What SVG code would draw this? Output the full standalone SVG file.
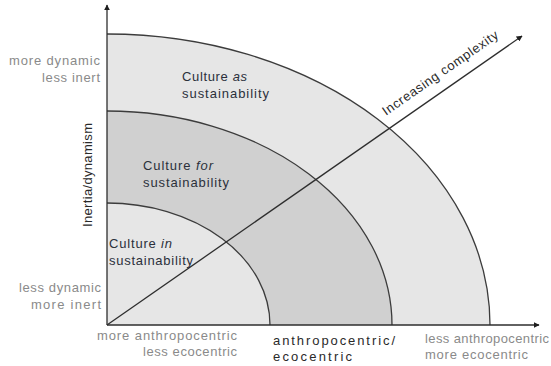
<svg xmlns="http://www.w3.org/2000/svg" width="551" height="366" viewBox="0 0 551 366">
<style>
.arc{fill:none;stroke:#3c3c3c;stroke-width:1.3}
.light{fill:#e6e6e6}
.mid{fill:#d0d0d0}
.ax{fill:none;stroke:#2e2e2e;stroke-width:1.3}
.g{font-family:"Liberation Sans",Arial,sans-serif;font-size:13px;fill:#8a8a8a}
.d{font-family:"Liberation Sans",Arial,sans-serif;font-size:13px;fill:#2b303b}
.k{font-family:"Liberation Sans",Arial,sans-serif;font-size:13px;fill:#2a2a2a}
</style>
<defs>
<marker id="ah" viewBox="0 0 10 10" refX="9" refY="5" markerWidth="6" markerHeight="6" markerUnits="userSpaceOnUse" orient="auto">
<path d="M0,0 L10,5 L0,10 Z" fill="#1e1e1e"/>
</marker>
</defs>
<rect width="551" height="366" fill="#ffffff"/>
<g id="ring-outer">
<path class="light" d="M107,325 L107,34 A383,291 0 0 1 490,325 Z"/>
<path class="arc" d="M107,34 A383,291 0 0 1 490,325"/>
</g>
<g id="ring-middle">
<path class="mid" d="M107,325 L107,111 A285,214 0 0 1 392,325 Z"/>
<path class="arc" d="M107,111 A285,214 0 0 1 392,325"/>
</g>
<g id="ring-inner">
<path class="light" d="M107,325 L107,203 A163,122 0 0 1 270,325 Z"/>
<path class="arc" d="M107,203 A163,122 0 0 1 270,325"/>
</g>
<g id="connectors">
<line class="ax" x1="107" y1="325" x2="107" y2="5" marker-end="url(#ah)"/>
<line class="ax" x1="107" y1="325" x2="539" y2="325" marker-end="url(#ah)"/>
<line class="ax" x1="107" y1="325" x2="522" y2="36" marker-end="url(#ah)"/>
</g>
<g id="label-culture-as">
<text class="d" x="182" y="81" textLength="65" lengthAdjust="spacing">Culture <tspan font-style="italic">as</tspan></text>
<text class="d" x="182" y="98" textLength="87" lengthAdjust="spacing">sustainability</text>
</g>
<g id="label-culture-for">
<text class="d" x="143" y="170" textLength="70" lengthAdjust="spacing">Culture <tspan font-style="italic">for</tspan></text>
<text class="d" x="143" y="187" textLength="86" lengthAdjust="spacing">sustainability</text>
</g>
<g id="label-culture-in">
<text class="d" x="109" y="248" textLength="63" lengthAdjust="spacing">Culture <tspan font-style="italic">in</tspan></text>
<text class="d" x="109" y="265" textLength="84" lengthAdjust="spacing">sustainability</text>
</g>
<g id="label-complexity">
<text class="k" transform="translate(386,116) rotate(-34.85)" x="0" y="0" textLength="138" lengthAdjust="spacing">Increasing complexity</text>
</g>
<g id="label-y-axis">
<text class="k" transform="translate(92,227) rotate(-90)" x="0" y="0" textLength="104" lengthAdjust="spacing">Inertia/dynamism</text>
</g>
<g id="label-y-top">
<text class="g" x="9" y="65" textLength="91" lengthAdjust="spacing">more dynamic</text>
<text class="g" x="42" y="82" textLength="58" lengthAdjust="spacing">less inert</text>
</g>
<g id="label-y-bottom">
<text class="g" x="19" y="292" textLength="82" lengthAdjust="spacing">less dynamic</text>
<text class="g" x="31" y="309" textLength="70" lengthAdjust="spacing">more inert</text>
</g>
<g id="label-x-left">
<text class="g" x="97" y="340" textLength="140" lengthAdjust="spacing">more anthropocentric</text>
<text class="g" x="143" y="356" textLength="94" lengthAdjust="spacing">less ecocentric</text>
</g>
<g id="label-x-mid">
<text class="k" x="273" y="345" textLength="122" lengthAdjust="spacing">anthropocentric/</text>
<text class="k" x="273" y="361" textLength="79" lengthAdjust="spacing">ecocentric</text>
</g>
<g id="label-x-right">
<text class="g" x="425" y="343" textLength="124" lengthAdjust="spacing">less anthropocentric</text>
<text class="g" x="425" y="359" textLength="103" lengthAdjust="spacing">more ecocentric</text>
</g>
</svg>
